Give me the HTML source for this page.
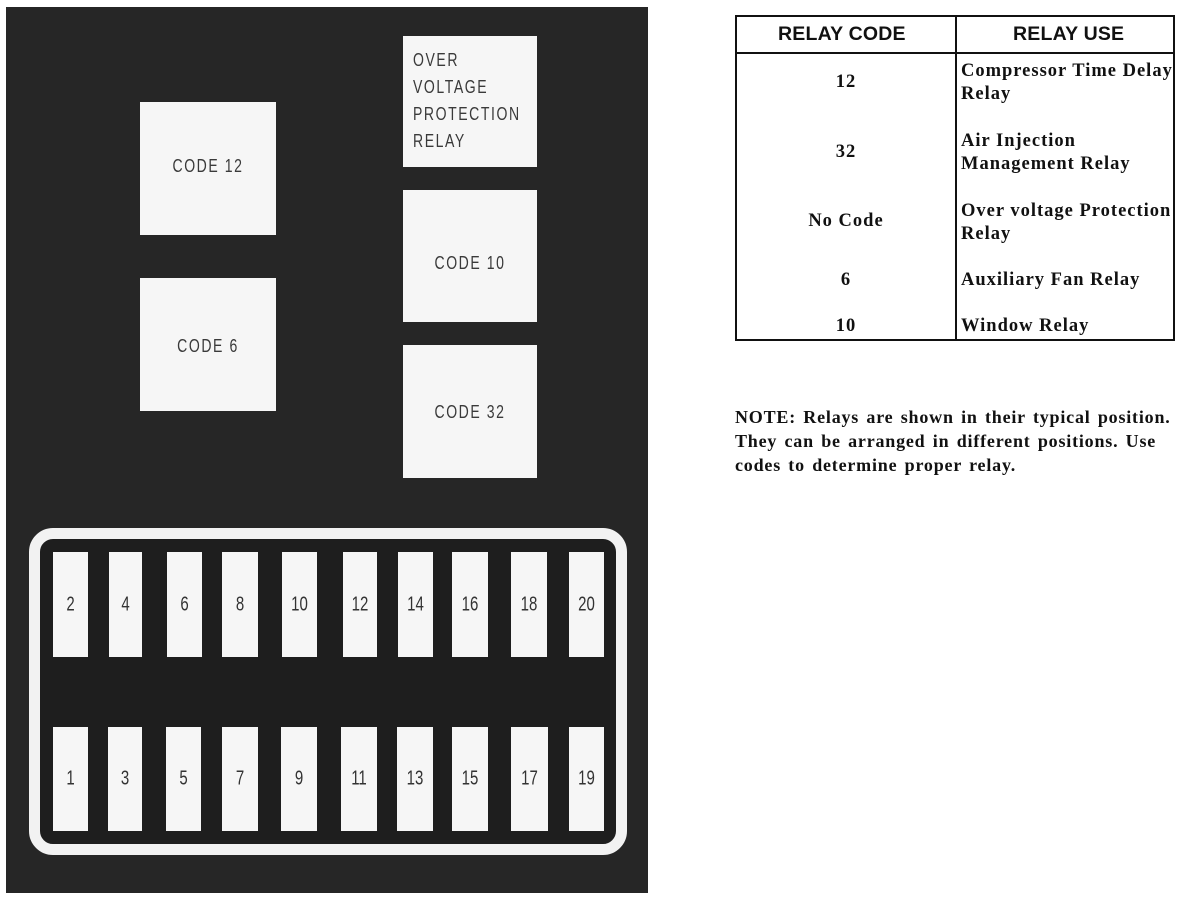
<!DOCTYPE html>
<html><head><meta charset="utf-8">
<style>
html,body{margin:0;padding:0;background:#fff;}
body{width:1188px;height:904px;position:relative;overflow:hidden;}
.panel{position:absolute;left:6px;top:7px;width:642px;height:886px;background:#262626;}
.box{position:absolute;background:#f6f6f6;}
.lbl{position:absolute;font-family:"Liberation Sans",sans-serif;color:#3a3a3a;font-size:18px;letter-spacing:2px;white-space:nowrap;transform:scaleX(0.78);}
.c{text-align:center;left:0;right:0;}
.l{transform-origin:0 50%;}
.frame{position:absolute;left:29px;top:528px;width:576px;height:305px;border:11px solid #f2f2f2;border-radius:24px;background:#1e1e1e;}
.fuse{position:absolute;background:#f6f6f6;}
.fuse span{position:absolute;left:0;right:0;top:50%;transform:translateY(-50%) scaleX(0.75);text-align:center;font-family:"Liberation Sans",sans-serif;font-size:20px;color:#333;}
.tbl{position:absolute;left:735px;top:15px;width:436px;height:322px;border:2px solid #111;}
.hl{position:absolute;left:735px;top:52px;width:440px;height:2px;background:#111;}
.vl{position:absolute;left:955px;top:15px;width:2px;height:326px;background:#111;}
.h{position:absolute;font-family:"Liberation Sans",sans-serif;font-weight:bold;font-size:19.5px;letter-spacing:0.2px;color:#111;top:23px;}
.t{position:absolute;font-family:"Liberation Serif",serif;font-weight:bold;font-size:18.5px;color:#111;letter-spacing:1px;line-height:23px;white-space:nowrap;}
.cc{left:737px;width:218px;text-align:center;}
.uu{left:961px;}
.note{position:absolute;left:735px;top:405px;width:450px;font-family:"Liberation Serif",serif;font-weight:bold;font-size:18px;line-height:24px;color:#111;letter-spacing:0.8px;word-spacing:2px;white-space:nowrap;}
</style></head><body>
<div class="panel"></div>

<div class="box" style="left:140px;top:102px;width:136px;height:133px;"><div class="lbl c" style="top:54px;">CODE 12</div></div>
<div class="box" style="left:140px;top:278px;width:136px;height:133px;"><div class="lbl c" style="top:58px;">CODE 6</div></div>
<div class="box" style="left:403px;top:36px;width:134px;height:131px;">
  <div class="lbl l" style="left:10px;top:14px;">OVER</div>
  <div class="lbl l" style="left:10px;top:41px;">VOLTAGE</div>
  <div class="lbl l" style="left:10px;top:68px;">PROTECTION</div>
  <div class="lbl l" style="left:10px;top:95px;">RELAY</div>
</div>
<div class="box" style="left:403px;top:190px;width:134px;height:132px;"><div class="lbl c" style="top:63px;">CODE 10</div></div>
<div class="box" style="left:403px;top:345px;width:134px;height:133px;"><div class="lbl c" style="top:57px;">CODE 32</div></div>

<div class="frame"></div>
<div class="fuse" style="left:53px;top:552px;width:35px;height:105px;"><span>2</span></div>
<div class="fuse" style="left:109px;top:552px;width:33px;height:105px;"><span>4</span></div>
<div class="fuse" style="left:167px;top:552px;width:35px;height:105px;"><span>6</span></div>
<div class="fuse" style="left:222px;top:552px;width:36px;height:105px;"><span>8</span></div>
<div class="fuse" style="left:282px;top:552px;width:35px;height:105px;"><span>10</span></div>
<div class="fuse" style="left:343px;top:552px;width:34px;height:105px;"><span>12</span></div>
<div class="fuse" style="left:398px;top:552px;width:35px;height:105px;"><span>14</span></div>
<div class="fuse" style="left:452px;top:552px;width:36px;height:105px;"><span>16</span></div>
<div class="fuse" style="left:511px;top:552px;width:36px;height:105px;"><span>18</span></div>
<div class="fuse" style="left:569px;top:552px;width:35px;height:105px;"><span>20</span></div>

<div class="fuse" style="left:53px;top:727px;width:35px;height:104px;"><span>1</span></div>
<div class="fuse" style="left:108px;top:727px;width:34px;height:104px;"><span>3</span></div>
<div class="fuse" style="left:166px;top:727px;width:35px;height:104px;"><span>5</span></div>
<div class="fuse" style="left:222px;top:727px;width:36px;height:104px;"><span>7</span></div>
<div class="fuse" style="left:281px;top:727px;width:36px;height:104px;"><span>9</span></div>
<div class="fuse" style="left:341px;top:727px;width:36px;height:104px;"><span>11</span></div>
<div class="fuse" style="left:397px;top:727px;width:36px;height:104px;"><span>13</span></div>
<div class="fuse" style="left:452px;top:727px;width:36px;height:104px;"><span>15</span></div>
<div class="fuse" style="left:511px;top:727px;width:37px;height:104px;"><span>17</span></div>
<div class="fuse" style="left:569px;top:727px;width:35px;height:104px;"><span>19</span></div>

<div class="tbl"></div>
<div class="hl"></div>
<div class="vl"></div>
<div class="h" style="left:778px;">RELAY CODE</div>
<div class="h" style="left:1013px;">RELAY USE</div>

<div class="t cc" style="top:71px;">12</div>
<div class="t uu" style="top:60px;">Compressor Time Delay<br>Relay</div>
<div class="t cc" style="top:141px;">32</div>
<div class="t uu" style="top:130px;">Air Injection<br>Management Relay</div>
<div class="t cc" style="top:210px;">No Code</div>
<div class="t uu" style="top:200px;">Over voltage Protection<br>Relay</div>
<div class="t cc" style="top:269px;">6</div>
<div class="t uu" style="top:269px;">Auxiliary Fan Relay</div>
<div class="t cc" style="top:315px;">10</div>
<div class="t uu" style="top:315px;">Window Relay</div>

<div class="note">NOTE: Relays are shown in their typical position.<br>They can be arranged in different positions. Use<br>codes to determine proper relay.</div>
</body></html>
